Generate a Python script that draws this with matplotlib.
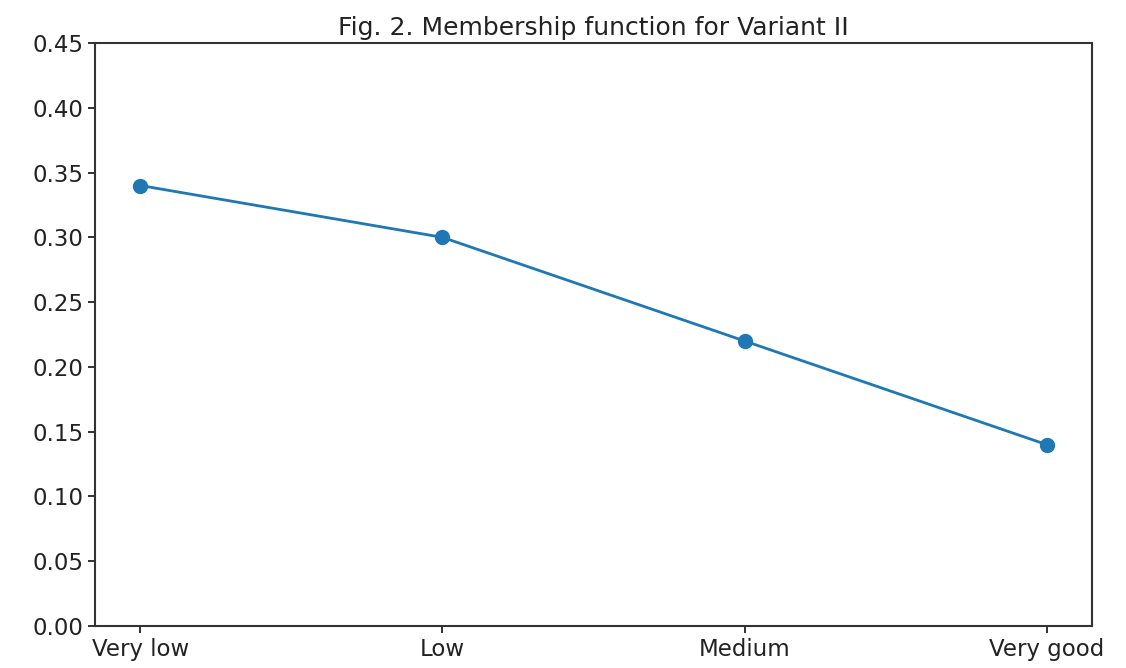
import matplotlib
matplotlib.use("Agg")
import matplotlib.pyplot as plt

categories = ["Very low", "Low", "Medium", "Very good"]
values = [0.34, 0.30, 0.22, 0.14]
yticks = [0.00, 0.05, 0.10, 0.15, 0.20, 0.25, 0.30, 0.35, 0.40, 0.45]

fig = plt.figure(figsize=(11.26, 6.68), dpi=100)
ax = fig.add_axes([95/1126, 1 - 626/668, (1092-95)/1126, (626-43)/668])
ax.plot(range(len(categories)), values, marker="o", color="#1f77b4",
        linewidth=2.0, markersize=10)
ax.set_xticks(range(len(categories)))
ax.set_xticklabels(categories)
ax.set_yticks(yticks)
ax.set_yticklabels([f"{v:.2f}" for v in yticks])
ax.set_ylim(0, 0.45)
ax.set_xlim(-0.15, 3.15)
ax.tick_params(labelsize=16.5, width=1.3, length=5, colors="#222222")
for s in ax.spines.values():
    s.set_linewidth(1.5)
    s.set_color("#333333")
ax.set_title("Fig. 2. Membership function for Variant II", fontsize=18,
             color="#222222", pad=6)
fig.savefig("out.png", dpi=100)
